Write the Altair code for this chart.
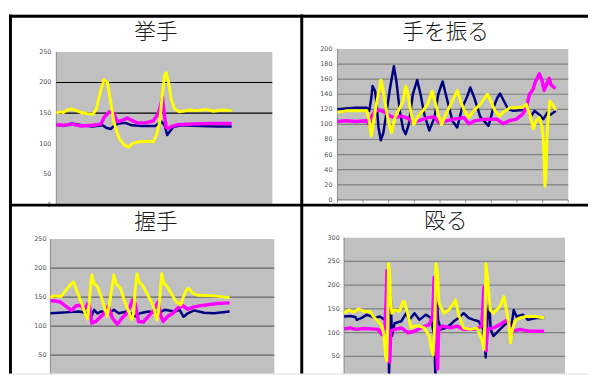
import altair as alt
import pandas as pd

SERIES = ["系列1", "系列2", "系列3"]
COLORS = ["#000080", "#ff00ff", "#ffff00"]
WIDTHS = [2.5, 3.5, 3.0]
TITLES = ["挙手", "手を振る", "握手", "殴る"]

# ---------- 挙手 ----------
tl_nx = [0, 20, 43, 70, 101, 129, 138, 151, 160, 174, 192, 210, 238, 274, 292, 301, 308, 314, 324, 347, 400, 450, 487]
tl_ny = [131, 129, 133, 130, 128, 130, 126, 124, 129, 133, 134, 130, 129, 129, 136, 130, 114, 119, 127, 130, 129, 128, 128]
tl_mx = [0, 20, 43, 70, 101, 124, 133, 147, 160, 169, 183, 197, 210, 224, 247, 269, 283, 292, 295, 299, 305, 312, 319, 337, 380, 430, 487]
tl_my = [131, 130, 132, 129, 130, 132, 143, 152, 149, 136, 138, 142, 138, 134, 134, 137, 149, 168, 176, 152, 127, 125, 128, 131, 132, 133, 133]
tl_yx = [0, 10, 20, 30, 43, 55, 70, 85, 101, 111, 124, 133, 142, 151, 160, 174, 188, 201, 210, 228, 255, 269, 278, 287, 294, 301, 305, 312, 319, 328, 342, 370, 391, 415, 437, 460, 487]
tl_yy = [150, 152, 151, 155, 157, 154, 151, 149, 148, 156, 189, 205, 200, 168, 135, 109, 98, 94, 100, 103, 104, 103, 114, 135, 178, 213, 216, 200, 173, 157, 152, 155, 154, 156, 153, 155, 154]

# ---------- 手を振る ----------
tr_nx = [0, 32, 70, 115, 124, 132, 137, 147, 154, 160, 169, 179, 192, 205, 220, 230, 243, 256, 266, 278, 294, 311, 324, 339, 358, 378, 393, 410, 426, 448, 467, 486, 506, 518, 534, 557, 589, 608, 623, 634, 649, 666, 685, 723, 742, 755, 768, 787, 803, 819, 832, 851]
tr_ny = [120, 121, 122, 122, 118, 135, 151, 144, 122, 96, 79, 89, 118, 148, 177, 157, 118, 94, 87, 100, 140, 159, 140, 113, 92, 109, 140, 157, 135, 105, 96, 122, 137, 149, 135, 110, 98, 122, 135, 141, 131, 120, 118, 119, 120, 111, 118, 113, 107, 116, 113, 118]
tr_mx = [0, 32, 70, 115, 124, 134, 147, 166, 186, 205, 224, 250, 275, 294, 320, 352, 378, 393, 416, 454, 493, 512, 538, 582, 621, 646, 672, 698, 723, 736, 749, 762, 772, 787, 797, 806, 815, 826, 832, 845, 851]
tr_my = [104, 105, 104, 105, 100, 111, 118, 119, 116, 111, 109, 111, 108, 103, 105, 109, 110, 103, 104, 107, 109, 101, 105, 107, 107, 101, 105, 107, 114, 122, 140, 146, 157, 167, 159, 145, 153, 161, 153, 149, 148]
tr_yx = [0, 32, 70, 115, 124, 132, 141, 154, 170, 183, 198, 211, 224, 243, 256, 266, 275, 288, 298, 314, 333, 352, 369, 380, 393, 406, 422, 448, 467, 480, 495, 512, 531, 557, 585, 598, 614, 631, 646, 672, 698, 723, 736, 742, 751, 764, 775, 787, 797, 803, 806, 809, 813, 817, 819, 828, 838, 851]
tr_yy = [116, 118, 118, 118, 105, 85, 105, 131, 159, 135, 105, 89, 109, 122, 131, 151, 140, 113, 100, 111, 118, 127, 144, 131, 113, 100, 113, 131, 145, 131, 118, 109, 118, 127, 140, 131, 118, 111, 116, 122, 122, 123, 127, 120, 113, 94, 105, 109, 98, 79, 52, 18, 35, 83, 96, 131, 127, 119]

# ---------- 握手 ----------
bl_nx = [0, 25, 50, 77, 100, 108, 117, 126, 135, 157, 170, 183, 205, 227, 240, 263, 289, 306, 333, 346, 357, 368, 385, 412, 438, 480]
bl_ny = [122, 123, 124, 125, 122, 114, 128, 122, 125, 122, 128, 122, 125, 117, 122, 125, 122, 128, 125, 128, 116, 122, 127, 123, 122, 125]
bl_mx = [0, 25, 42, 56, 69, 82, 91, 100, 104, 111, 122, 131, 144, 155, 166, 179, 192, 205, 214, 220, 227, 236, 249, 263, 278, 289, 296, 302, 315, 328, 341, 355, 368, 385, 412, 447, 480]
bl_my = [144, 142, 134, 127, 135, 136, 128, 139, 138, 105, 108, 114, 122, 134, 114, 103, 114, 122, 134, 145, 139, 108, 107, 117, 128, 142, 117, 108, 117, 122, 131, 135, 129, 133, 136, 139, 140]
bl_yx = [0, 7, 29, 42, 56, 62, 70, 82, 93, 100, 104, 108, 111, 117, 126, 135, 144, 152, 157, 164, 170, 176, 188, 196, 208, 218, 223, 227, 232, 238, 249, 263, 276, 285, 289, 295, 298, 304, 311, 324, 337, 349, 355, 364, 370, 381, 395, 439, 480]
bl_yy = [148, 152, 151, 162, 173, 176, 162, 142, 122, 112, 139, 173, 188, 173, 168, 153, 134, 117, 134, 162, 188, 173, 165, 148, 128, 111, 122, 162, 190, 176, 168, 151, 134, 111, 122, 162, 190, 173, 170, 156, 142, 136, 148, 162, 165, 157, 153, 152, 149]

# ---------- 殴る ----------
br_nx = [0, 25, 46, 52, 72, 92, 126, 146, 166, 177, 181, 183, 186, 190, 195, 206, 233, 253, 266, 287, 307, 333, 354, 367, 372, 376, 379, 383, 394, 414, 434, 447, 467, 487, 507, 528, 548, 568, 572, 577, 584, 592, 597, 608, 635, 661, 682, 691, 702, 728, 749, 782, 815]
br_ny = [134, 135, 133, 127, 131, 138, 131, 134, 127, 120, 150, 11, 60, 179, 93, 120, 124, 141, 127, 141, 127, 138, 131, 93, 10, 130, 162, 127, 107, 110, 117, 124, 131, 141, 131, 127, 124, 107, 80, 48, 127, 165, 107, 93, 107, 120, 114, 148, 134, 138, 127, 131, 131]
br_mx = [0, 25, 50, 80, 110, 139, 155, 166, 171, 175, 179, 183, 186, 190, 206, 233, 260, 287, 313, 347, 361, 367, 373, 377, 381, 385, 401, 434, 460, 487, 534, 561, 570, 574, 578, 584, 608, 635, 661, 672, 678, 688, 715, 755, 815]
br_my = [108, 110, 107, 109, 108, 107, 96, 110, 162, 231, 148, 58, 38, 103, 107, 110, 100, 103, 110, 117, 134, 217, 162, 65, 24, 107, 114, 110, 114, 107, 107, 114, 196, 148, 62, 107, 110, 117, 126, 120, 93, 103, 107, 103, 103]
br_yx = [0, 19, 39, 59, 86, 106, 119, 139, 155, 163, 169, 174, 178, 181, 185, 190, 195, 206, 226, 240, 246, 260, 273, 287, 307, 327, 347, 356, 363, 370, 374, 380, 387, 394, 407, 427, 447, 454, 467, 487, 514, 541, 561, 570, 574, 578, 584, 595, 608, 635, 651, 661, 672, 678, 686, 695, 715, 742, 782, 815]
br_yy = [141, 148, 143, 150, 144, 145, 134, 124, 114, 93, 51, 41, 127, 245, 231, 162, 141, 148, 145, 165, 165, 138, 110, 114, 114, 110, 93, 65, 53, 127, 245, 231, 162, 155, 141, 148, 162, 169, 138, 110, 107, 110, 86, 65, 134, 245, 217, 148, 141, 155, 176, 148, 114, 79, 107, 124, 131, 134, 134, 131]

TL_TICKS = [0, 50, 100, 150, 200, 250]
TR_TICKS = [0, 20, 40, 60, 80, 100, 120, 140, 160, 180, 200]
BL_TICKS = [50, 100, 150, 200, 250]
BR_TICKS = [50, 100, 150, 200, 250, 300]
TR_XTICKS = [0, 100, 200, 300, 400, 500, 600, 700, 800, 900]

W, H = 587, 364
color_scale = alt.Scale(domain=SERIES, range=COLORS)


def panel(series, xdom, xrng, ydom, yrng, grid_vals, grid_color, ticks, lab_pad, xticks=None):
    xs = alt.Scale(domain=xdom, range=xrng, nice=False, zero=False)
    ys = alt.Scale(domain=ydom, range=yrng, nice=False, zero=False)

    def X(f):
        return alt.X(f, type="quantitative", scale=xs, axis=None)

    def Y(f):
        return alt.Y(f, type="quantitative", scale=ys, axis=None)

    box = pd.DataFrame({"x0": [xdom[0]], "x1": [xdom[1]], "y0": [ydom[0]], "y1": [ydom[1]]})
    bg = alt.Chart(box).mark_rect(color="#c0c0c0", clip=True).encode(
        x=X("x0"), x2="x1", y=Y("y0"), y2="y1")
    edge = alt.Chart(box).mark_rule(color="#8a8a8a", strokeWidth=1, clip=True).encode(
        x=X("x0"), y=Y("y0"), y2="y1")
    gdf = pd.DataFrame({"g": grid_vals, "x0": [xdom[0]] * len(grid_vals), "x1": [xdom[1]] * len(grid_vals)})
    grid = alt.Chart(gdf).mark_rule(color=grid_color, strokeWidth=1.2, clip=True).encode(
        x=X("x0"), x2="x1", y=Y("g"))
    layers = [bg, edge, grid]
    if xticks:
        tdf = pd.DataFrame({"t": xticks, "y0": [ydom[0]] * len(xticks)})
        layers.append(alt.Chart(tdf).mark_tick(orient="vertical", size=3, thickness=1, color="#666666",
                                               yOffset=1.5).encode(x=X("t"), y=Y("y0")))
    for name, (sx, sy), sw in zip(SERIES, series, WIDTHS):
        df = pd.DataFrame({"x": sx, "y": sy, "s": [name] * len(sx)})
        layers.append(alt.Chart(df).mark_line(clip=True, strokeWidth=sw, strokeJoin="round").encode(
            x=X("x"), y=Y("y"), color=alt.Color("s:N", scale=color_scale, legend=None)))
    ldf = pd.DataFrame({"v": ticks, "x0": [xdom[0]] * len(ticks)})
    layers.append(alt.Chart(ldf).mark_text(align="right", baseline="middle", dx=-lab_pad, fontSize=6.5,
                                           color="#555555", font="DejaVu Sans").encode(
        x=X("x0"), y=Y("v"), text=alt.Text("v:Q", format="d")))
    return alt.layer(*layers)


tl = panel([(tl_nx, tl_ny), (tl_mx, tl_my), (tl_yx, tl_yy)],
           [0, 600], [48, 267], [0, 250], [193, 38], [150, 200], "#000000", TL_TICKS, 5)
tr = panel([(tr_nx, tr_ny), (tr_mx, tr_my), (tr_yx, tr_yy)],
           [0, 900], [333, 567], [0, 200], [188, 35], [0, 20, 40, 60, 80, 100, 120, 140, 160, 180], "#808080",
           TR_TICKS, 5, xticks=TR_XTICKS)
bl = panel([(bl_nx, bl_ny), (bl_mx, bl_my), (bl_yx, bl_yy)],
           [0, 600], [42, 269], [0, 250], [374.7, 227.7], [50, 100, 150, 200], "#666666", BL_TICKS, 4)
br = panel([(br_nx, br_ny), (br_mx, br_my), (br_yx, br_yy)],
           [0, 900], [339.7, 563.7], [0, 300], [370.8, 226.3], [50, 100, 150, 200, 250], "#808080", BR_TICKS, 4.4)

one = pd.DataFrame({"k": [0]})


def vline(x):
    return alt.Chart(one).mark_rule(color="black", strokeWidth=3).encode(
        x=alt.value(x), y=alt.value(0), y2=alt.value(H))


def hline(y):
    return alt.Chart(one).mark_rule(color="black", strokeWidth=3).encode(
        x=alt.value(0), x2=alt.value(W), y=alt.value(y))


def title(t, x, y):
    return alt.Chart(pd.DataFrame({"t": [t]})).mark_text(
        font="Noto Sans CJK JP", fontSize=22, fontWeight=300, color="#1a1a1a",
        baseline="middle", align="center").encode(text="t:N", x=alt.value(x), y=alt.value(y))


chart = alt.layer(
    tl, tr, bl, br,
    title(TITLES[0], 149, 18), title(TITLES[1], 442.7, 18),
    title(TITLES[2], 149, 211), title(TITLES[3], 442.7, 210),
    vline(1.5), vline(296.8), hline(1.8), hline(193.3),
).resolve_scale(x="independent", y="independent").properties(
    width=W, height=H,
    padding={"left": 1, "top": 4, "right": 0, "bottom": 0},
    autosize=alt.AutoSizeParams(type="none"),
).configure_view(strokeWidth=0).configure(background="white")

chart.save("out.html", embed_options={"renderer": "svg", "actions": False})
